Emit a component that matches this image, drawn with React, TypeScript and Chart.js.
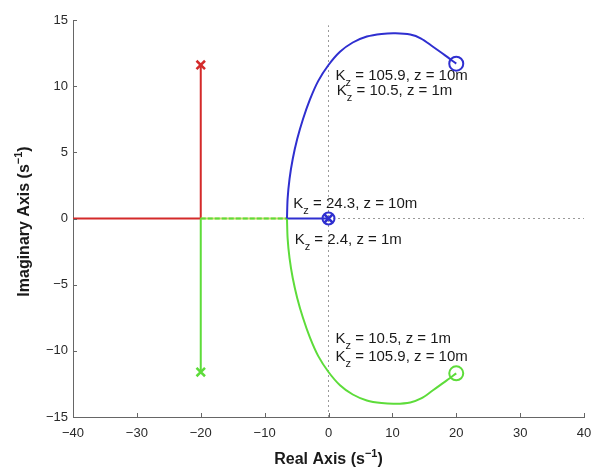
import { useEffect, useRef } from 'react';
import { Chart, registerables } from 'chart.js';
Chart.register(...registerables);

// ---- data ----
const xTicks = [-40, -30, -20, -10, 0, 10, 20, 30, 40];
const yTicks = [-15, -10, -5, 0, 5, 10, 15];

const redX = [-40, -20, -20];
const redY = [0, 0, 11.6];

const greenVertX = [-20, -20];
const greenVertY = [0, -11.6];
const greenHorizX = [-20, -6.5];
const greenHorizY = [0, 0];

const blueHorizX = [-6.5, 0];
const blueHorizY = [0, 0];

const blueX = [-6.5, -6.4, -6.1, -5.6, -4.9, -4.0, -2.9, -1.6, 0, 1.8, 3.8, 6.0, 8.3, 10.5, 12.8, 14.5, 16.3, 18.2, 20.0];
const blueY = [0, 1.5, 3.0, 4.5, 6.0, 7.5, 9.0, 10.4, 11.6, 12.6, 13.3, 13.75, 13.95, 14.0, 13.9, 13.6, 13.0, 12.35, 11.7];

const greenX = [-6.5, -6.4, -6.1, -5.6, -4.9, -4.0, -2.9, -1.6, 0, 1.8, 3.8, 6.0, 8.3, 10.5, 12.8, 14.5, 16.3, 18.2, 20.0];
const greenY = [0, -1.5, -3.0, -4.5, -6.0, -7.5, -9.0, -10.4, -11.6, -12.6, -13.3, -13.75, -13.95, -14.0, -13.9, -13.6, -13.0, -12.35, -11.7];

const poleX = [-20, -20, 0];
const poleY = [11.6, -11.6, 0];
const zeroX = [20, 20, 0];
const zeroY = [11.7, -11.7, 0];

const annoGain = ['105.9', '10.5', '24.3', '2.4', '10.5', '105.9'];
const annoZ = ['10m', '1m', '10m', '1m', '1m', '10m'];
const annoAtX = [1.1, 1.3, -5.5, -5.3, 1.1, 1.1];
const annoAtY = [10.45, 9.3, 0.83, -1.9, -9.4, -10.75];

const RED = '#d42a2a';
const GREEN = '#5ddc3a';
const BLUE = '#2f2fd0';

const pts = (xs: number[], ys: number[]) => xs.map((x, i) => ({ x, y: ys[i] }));

function drawRich(ctx: CanvasRenderingContext2D, parts: { t: string; dy: number; size: number }[], x: number, y: number, weight: string, align: 'left' | 'center') {
  const family = '"Liberation Sans", Arial, sans-serif';
  let total = 0;
  for (const p of parts) {
    ctx.font = `${weight} ${p.size}px ${family}`;
    total += ctx.measureText(p.t).width;
  }
  let cx = align === 'center' ? x - total / 2 : x;
  ctx.textAlign = 'left';
  ctx.textBaseline = 'alphabetic';
  for (const p of parts) {
    ctx.font = `${weight} ${p.size}px ${family}`;
    ctx.fillText(p.t, cx, y + p.dy);
    cx += ctx.measureText(p.t).width;
  }
}

const decorPlugin = {
  id: 'decor',
  beforeDatasetsDraw(chart: any) {
    const { ctx, scales } = chart;
    ctx.save();
    ctx.fillStyle = '#1a1a1a';
    for (let i = 0; i < annoGain.length; i++) {
      const px = scales.x.getPixelForValue(annoAtX[i]);
      const py = scales.y.getPixelForValue(annoAtY[i]);
      drawRich(ctx, [
        { t: 'K', dy: 0, size: 15 },
        { t: 'z', dy: 6, size: 11 },
        { t: ` = ${annoGain[i]}, z = ${annoZ[i]}`, dy: 0, size: 15 },
      ], px, py, 'normal', 'left');
    }
    ctx.restore();
  },
  afterDraw(chart: any) {
    const { ctx, chartArea: a, scales } = chart;
    ctx.save();
    ctx.strokeStyle = '#666';
    ctx.lineWidth = 1;
    ctx.beginPath();
    for (const v of xTicks) {
      const px = Math.round(scales.x.getPixelForValue(v)) + 0.5;
      ctx.moveTo(px, a.bottom);
      ctx.lineTo(px, a.bottom - 4);
    }
    for (const v of yTicks) {
      const py = Math.round(scales.y.getPixelForValue(v)) + 0.5;
      ctx.moveTo(a.left, py);
      ctx.lineTo(a.left + 4, py);
    }
    ctx.stroke();

    ctx.fillStyle = '#1a1a1a';
    drawRich(ctx, [
      { t: 'Real Axis (s', dy: 0, size: 16 },
      { t: '\u22121', dy: -7, size: 11 },
      { t: ')', dy: 0, size: 16 },
    ], (a.left + a.right) / 2, 464, 'bold', 'center');

    ctx.save();
    ctx.translate(29, (a.top + a.bottom) / 2 + 3);
    ctx.rotate(-Math.PI / 2);
    drawRich(ctx, [
      { t: 'Imaginary Axis (s', dy: 0, size: 16 },
      { t: '\u22121', dy: -7, size: 11 },
      { t: ')', dy: 0, size: 16 },
    ], 0, 0, 'bold', 'center');
    ctx.restore();
    ctx.restore();
  },
};

export default function App() {
  const ref = useRef<HTMLCanvasElement>(null);
  useEffect(() => {
    document.body.style.margin = '0';
    const line = (xs: number[], ys: number[], color: string, extra: any = {}) => ({
      data: pts(xs, ys),
      showLine: true,
      borderColor: color,
      borderWidth: 2,
      pointRadius: 0,
      tension: 0,
      fill: false,
      ...extra,
    });
    const chart = new Chart(ref.current!, {
      type: 'scatter',
      data: {
        datasets: [
          // markers (on top)
          { data: pts([poleX[0]], [poleY[0]]), pointStyle: 'crossRot', pointRadius: 6, borderColor: RED, borderWidth: 2.5, backgroundColor: RED },
          { data: pts([poleX[1]], [poleY[1]]), pointStyle: 'crossRot', pointRadius: 6, borderColor: GREEN, borderWidth: 2.5, backgroundColor: GREEN },
          { data: pts([poleX[2]], [poleY[2]]), pointStyle: 'crossRot', pointRadius: 6, borderColor: BLUE, borderWidth: 2.5, backgroundColor: BLUE },
          { data: pts([zeroX[0]], [zeroY[0]]), pointStyle: 'circle', pointRadius: 7, borderColor: BLUE, borderWidth: 2, backgroundColor: 'rgba(0,0,0,0)' },
          { data: pts([zeroX[1]], [zeroY[1]]), pointStyle: 'circle', pointRadius: 7, borderColor: GREEN, borderWidth: 2, backgroundColor: 'rgba(0,0,0,0)' },
          { data: pts([zeroX[2]], [zeroY[2]]), pointStyle: 'circle', pointRadius: 6, borderColor: BLUE, borderWidth: 2, backgroundColor: 'rgba(0,0,0,0)' },
          // loci
          line(blueX, blueY, BLUE, { tension: 0.3 }),
          line(greenX, greenY, GREEN, { tension: 0.3 }),
          line(blueHorizX, blueHorizY, BLUE),
          line(greenHorizX, greenHorizY, GREEN, { borderDash: [5, 2] }),
          line(greenHorizX, greenHorizY, '#c9dc6a'),
          line(greenVertX, greenVertY, GREEN),
          line(redX, redY, RED),
          // dotted zero lines (behind)
          line([0, 0], [-15, 14.6], '#9a9a9a', { borderWidth: 1, borderDash: [2, 3] }),
          line([-40, 40], [0, 0], '#9a9a9a', { borderWidth: 1, borderDash: [2, 3] }),
        ],
      },
      options: {
        animation: false,
        responsive: false,
        events: [],
        layout: { padding: { left: 0, right: 10, top: 20, bottom: 0 } },
        plugins: { legend: { display: false }, tooltip: { enabled: false } },
        scales: {
          x: {
            type: 'linear',
            min: -40,
            max: 40,
            afterFit: (s: any) => { s.height = 54; s.paddingRight = 0; s.paddingLeft = 0; },
            afterBuildTicks: (s: any) => { s.ticks = xTicks.map((v) => ({ value: v })); },
            grid: { display: true, drawOnChartArea: false, drawTicks: false },
            border: { display: true, color: '#666', width: 1 },
            ticks: {
              padding: 9,
              color: '#2a2a2a',
              font: { family: '"Liberation Sans", Arial, sans-serif', size: 13 },
              maxRotation: 0,
              callback: (v: any) => String(v).replace('-', '\u2212'),
            },
          },
          y: {
            type: 'linear',
            min: -15,
            max: 15,
            afterFit: (s: any) => { s.width = 73; s.paddingTop = 0; s.paddingBottom = 0; },
            afterBuildTicks: (s: any) => { s.ticks = yTicks.map((v) => ({ value: v })); },
            grid: { display: true, drawOnChartArea: false, drawTicks: false },
            border: { display: true, color: '#666', width: 1 },
            ticks: {
              padding: 5,
              color: '#2a2a2a',
              font: { family: '"Liberation Sans", Arial, sans-serif', size: 13 },
              callback: (v: any) => String(v).replace('-', '\u2212'),
            },
          },
        },
      },
      plugins: [decorPlugin],
    } as any);
    return () => chart.destroy();
  }, []);
  return (
    <div style={{ position: 'fixed', left: 0, top: 0, width: 594, height: 471, background: '#fff' }}>
      <canvas ref={ref} width={594} height={471} />
    </div>
  );
}
